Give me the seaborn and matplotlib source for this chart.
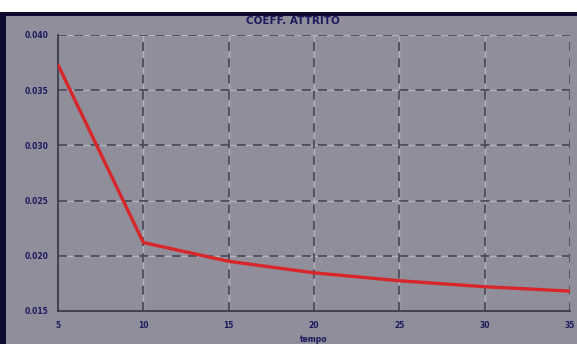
import matplotlib
matplotlib.use("Agg")
import matplotlib.pyplot as plt
import seaborn as sns
import pandas as pd
from matplotlib.patches import Rectangle

# Friction coefficient curve
x_values = [5, 10, 15, 20, 25, 30, 35]
coeff_values = [0.0373, 0.0212, 0.0195, 0.01846, 0.01774, 0.0172, 0.0168]
x_ticks = [5, 10, 15, 20, 25, 30, 35]
y_ticks = [0.015, 0.020, 0.025, 0.030, 0.035, 0.040]
y_tick_labels = ["0.015", "0.020", "0.025", "0.030", "0.035", "0.040"]
title_text = "COEFF. ATTRITO"
x_label = "tempo"

df = pd.DataFrame({"x": x_values, "coeff": coeff_values})

panel = "#8f8e9a"
navy = "#1c1a5c"
grid_col = "#4a4a5c"

sns.set_style("white")
fig = plt.figure(figsize=(5.77, 3.44), dpi=100, facecolor=panel)

# white band and dark frame along the top and left edges
fig.patches.append(Rectangle((0, 1 - 12 / 344), 1, 12 / 344, transform=fig.transFigure,
                             facecolor="white", edgecolor="none", zorder=0))
fig.patches.append(Rectangle((0, 1 - 16 / 344), 1, 4 / 344, transform=fig.transFigure,
                             facecolor="#0d0b30", edgecolor="none", zorder=0))
fig.patches.append(Rectangle((0, 0), 6 / 577, 1 - 12 / 344, transform=fig.transFigure,
                             facecolor="#0d0b30", edgecolor="none", zorder=0))

ax = fig.add_axes([58 / 577, 1 - 311 / 344, (570 - 58) / 577, (311 - 35) / 344])
ax.set_facecolor(panel)

ax.set_xlim(5, 35)
ax.set_ylim(0.015, 0.040)
ax.set_xticks(x_ticks)
ax.set_xticklabels([str(t) for t in x_ticks])
ax.set_yticks(y_ticks)
ax.set_yticklabels(y_tick_labels)

# dashed grid with pale gaps between the dashes
for xv in x_ticks[1:]:
    ax.axvline(xv, color="#b4b3bd", linewidth=1.0, zorder=1)
    ax.axvline(xv, color=grid_col, linestyle=(0, (5, 4)), linewidth=1.3, zorder=1.5)
for yv in y_ticks[1:]:
    ax.axhline(yv, color="#b4b3bd", linewidth=1.0, zorder=1)
    ax.axhline(yv, color=grid_col, linestyle=(0, (5, 4)), linewidth=1.3, zorder=1.5)

sns.lineplot(data=df, x="x", y="coeff", ax=ax, color="#d8262a", linewidth=2.4, zorder=3)

for side in ["top", "right"]:
    ax.spines[side].set_visible(False)
for side in ["left", "bottom"]:
    ax.spines[side].set_color("#3a3a4c")
    ax.spines[side].set_linewidth(1.3)

ax.tick_params(axis="both", length=0, pad=7, labelsize=5.5, labelcolor=navy)
for lab in ax.get_xticklabels() + ax.get_yticklabels():
    lab.set_fontweight("bold")

ax.set_xlabel("")
ax.set_ylabel("")
fig.text(314 / 577, 1 - 339 / 344, x_label, ha="center", va="center",
         fontsize=5.5, color=navy, fontweight="bold")
fig.text(293 / 577, 1 - 21 / 344, title_text, ha="center", va="center",
         fontsize=7.5, color=navy, fontweight="bold")

fig.savefig("out.png", dpi=100, facecolor=panel)
